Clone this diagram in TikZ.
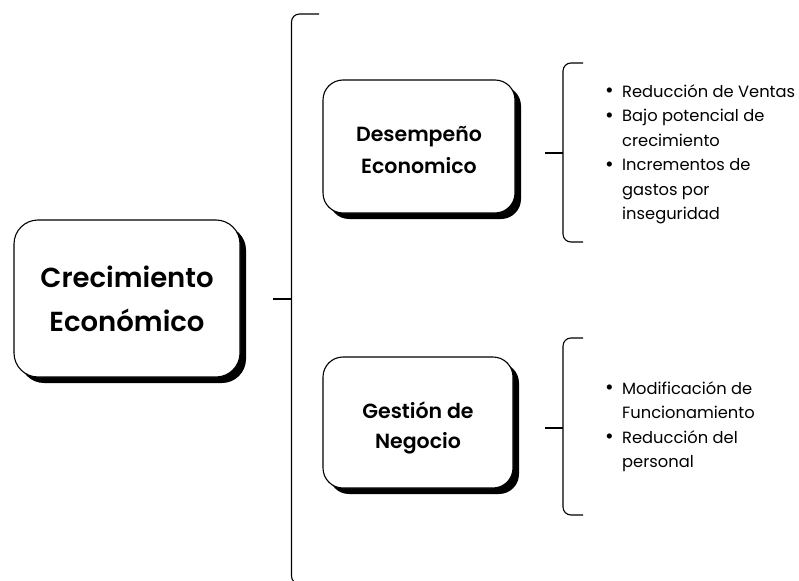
\documentclass[tikz,border=0pt]{standalone}
\usepackage{fontspec}
\setmainfont{Poppins}[BoldFont={Poppins SemiBold}]
\usetikzlibrary{shadows}
\begin{document}
\begin{tikzpicture}[x=1pt,y=-1pt,
  shbox/.style={draw=black, line width=1.1pt, fill=white,
    inner sep=0pt,
    drop shadow={fill=black, opacity=1, shadow xshift=6pt, shadow yshift=-6pt}},
  boxtext/.style={align=center, inner sep=0pt},
  brk/.style={line width=1.1pt, rounded corners=8pt},
  tick/.style={line width=1.1pt},
  bullets/.style={anchor=north west, align=left, inner sep=0pt,
    font=\fontsize{16.3}{24.5}\selectfont}]
\clip (0,0) rectangle (799,580);
\fill[white] (0,0) rectangle (799,580);
% boxes
\node[shbox, minimum width=226pt, minimum height=157pt, rounded corners=24pt] (main) at (127,298.5) {};
\node[shbox, minimum width=192pt, minimum height=133pt, rounded corners=20pt] (des) at (419,146.5) {};
\node[shbox, minimum width=190pt, minimum height=131pt, rounded corners=20pt] (ges) at (418,422.5) {};
% box texts
\node[boxtext, font=\bfseries\fontsize{27.5}{44}\selectfont] (mainT) at ([yshift=-0.5pt]main.center)
  {Crecimiento\\Económico};
\node[boxtext, font=\bfseries\fontsize{20.5}{32}\selectfont] (desT) at ([yshift=-3.5pt]des.center)
  {Desempeño\\Economico};
\node[boxtext, font=\bfseries\fontsize{20.5}{30}\selectfont] (gesT) at ([yshift=-5pt]ges.center)
  {Gestión de\\Negocio};
% main bracket
\coordinate (mt) at (273,299);
\coordinate (mb) at (291.5,299);
\draw[tick] (mt) -- (mb);
\draw[brk] (319,14) -- (291.5,14) -- (291.5,584) -- (319,584);
% bracket 1
\coordinate (at) at (545,153);
\coordinate (ab) at (563,153);
\draw[tick] (at) -- (ab);
\draw[brk] (583,63) -- (563,63) -- (563,242) -- (583,242);
% bracket 2
\coordinate (bt) at (545,428);
\coordinate (bb) at (563,428);
\draw[tick] (bt) -- (bb);
\draw[brk] (583,338) -- (563,338) -- (563,515) -- (583,515);
% bullet texts
\newcommand{\bul}{\makebox[17pt][l]{\raisebox{-0.5pt}{\fontsize{21}{0}\selectfont\textbullet}}}
\newcommand{\ind}{\hspace*{17pt}}
\node[bullets] (l1) at (605,84)
  {\bul Reducción de Ventas\\
   \bul Bajo potencial de\\
   \ind crecimiento\\
   \bul Incrementos de\\
   \ind gastos por\\
   \ind inseguridad};
\node[bullets] (l2) at (605,381)
  {\bul Modificación de\\
   \ind Funcionamiento\\
   \bul Reducción del\\
   \ind personal};
\end{tikzpicture}
\end{document}
